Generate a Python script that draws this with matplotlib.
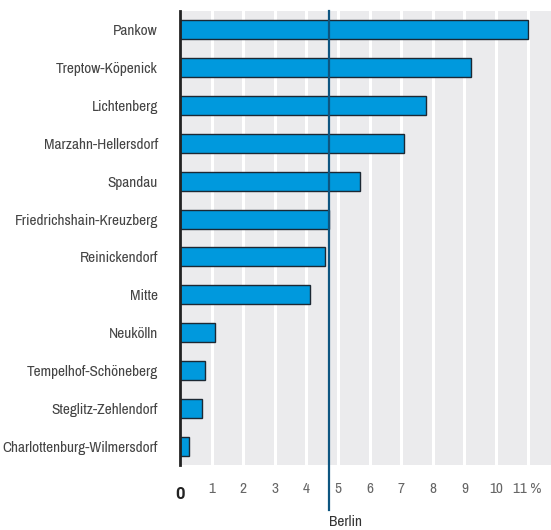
import matplotlib.pyplot as plt
from matplotlib import font_manager

districts = ['Pankow', 'Treptow-Köpenick', 'Lichtenberg', 'Marzahn-Hellersdorf',
             'Spandau', 'Friedrichshain-Kreuzberg', 'Reinickendorf', 'Mitte',
             'Neukölln', 'Tempelhof-Schöneberg', 'Steglitz-Zehlendorf',
             'Charlottenburg-Wilmersdorf']
values = [11.0, 9.2, 7.8, 7.1, 5.7, 4.7, 4.6, 4.1, 1.1, 0.8, 0.7, 0.3]
berlin = 4.7
ticks = [1, 2, 3, 4, 5, 6, 7, 8, 9, 10, 11]
tick_labels = ['1', '2', '3', '4', '5', '6', '7', '8', '9', '10', '11 %']

# look for a narrow font, otherwise fall back to Roboto
fam = 'Roboto'
for f in font_manager.fontManager.ttflist:
    n = f.name.lower()
    if 'condensed' in n or 'narrow' in n:
        fam = f.name
        break
plt.rcParams['font.family'] = [fam, 'DejaVu Sans']
plt.rcParams['font.weight'] = 'light'

fig = plt.figure(figsize=(5.51, 5.30), dpi=100)
ax = fig.add_axes([180 / 551, 65 / 530, 371 / 551, 454 / 530])
ax.set_facecolor('#ebebed')

# pick a size so the longest label is about 156 px wide, like the reference
r = fig.canvas.get_renderer()
probe = fig.text(0, 0, districts[-1], fontsize=10)
w = probe.get_window_extent(r).width
probe.remove()
fs = min(12, 10 * 156 / w)

y = range(len(districts))
ax.barh(y, values, height=0.5, color='#0099dd', edgecolor='#1c2833', linewidth=1.0, zorder=3)

for t in ticks:
    ax.axvline(t, color='white', lw=2.2, zorder=1)

ax.set_xlim(0, 11.74)
ax.set_ylim(len(districts) - 0.5, -0.5)
ax.set_yticks(list(y))
ax.set_yticklabels(districts, fontsize=fs, color='#444444')
ax.tick_params(axis='y', length=0, pad=16)
ax.set_xticks(ticks)
ax.set_xticklabels(tick_labels, fontsize=fs, color='#666666')
ax.tick_params(axis='x', length=0, pad=12)
ax.text(0, -0.048, '0', transform=ax.get_xaxis_transform(), ha='center', va='top',
        fontsize=fs + 1, fontweight='bold', color='#222222',
        family=['Roboto', 'DejaVu Sans'])

for s in ['top', 'right', 'bottom']:
    ax.spines[s].set_visible(False)
ax.spines['left'].set_color('#222222')
ax.spines['left'].set_linewidth(2)
ax.spines['left'].set_zorder(4)

# Berlin average line, running below the axis
ax.plot([berlin, berlin], [1.0, -0.1], transform=ax.get_xaxis_transform(),
        color='#0d5580', lw=1.6, clip_on=False, zorder=4)
ax.text(berlin, -0.11, 'Berlin', transform=ax.get_xaxis_transform(), ha='left', va='top',
        fontsize=fs, color='#333333')

fig.savefig('out.png', dpi=100)
